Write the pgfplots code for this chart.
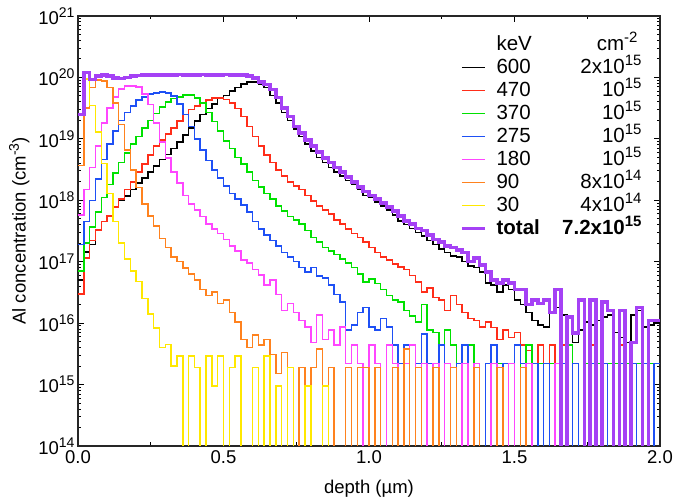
\documentclass[border=0pt]{standalone}
\usepackage{pgfplots}
\pgfplotsset{compat=1.18}
\usepackage{pgfplotstable}
\usepackage{fontspec}
\setmainfont{Liberation Sans}
\definecolor{cA}{RGB}{255,45,25}
\definecolor{cB}{RGB}{0,225,0}
\definecolor{cC}{RGB}{30,80,245}
\definecolor{cD}{RGB}{255,70,255}
\definecolor{cE}{RGB}{255,130,30}
\definecolor{cF}{RGB}{255,232,0}
\definecolor{cT}{RGB}{165,65,245}
\pgfplotstableread{
x k600 k470 k370 k275 k180 k90 k30 total
0.00 5e16 3e16 7e16 1.9e17 5.8e17 3.7e18 2.5e19 2.5e19
0.02 1.45e17 1.15e17 2e17 4.5e17 1.5e18 3.2e19 9.5e19 1.2e20
0.04 1.9e17 2.2e17 3.7e17 1e18 3.4e18 6.9e19 3.5e19 9.2e19
0.06 3.2e17 3.3e17 6.5e17 2.2e18 7.6e18 9e19 1.3e19 1.05e20
0.08 4.5e17 4.5e17 1.1e18 4.6e18 1.8e19 8.8e19 4e18 1.1e20
0.10 5.5e17 5.5e17 1.8e18 8.3e18 3.2e19 6.8e19 1.3e18 1.05e20
0.12 7.8e17 7.8e17 2.8e18 1.35e19 4.8e19 3.8e19 4.5e17 9.8e19
0.14 1e18 1.05e18 4.1e18 2e19 6.5e19 1.7e19 2e17 9.6e19
0.16 1.17e18 1.5e18 5.9e18 2.7e19 7.2e19 6.6e18 1.1e17 1e20
0.18 1.5e18 2e18 8.3e18 3.4e19 7.2e19 3.1e18 7e16 1.05e20
0.20 1.9e18 2.9e18 1.1e19 4.3e19 7e19 1.6e18 4.8e16 1.08e20
0.22 2.3e18 3.9e18 1.5e19 4.8e19 5.4e19 8.7e17 2.5e16 1.1e20
0.24 2.9e18 5.5e18 2e19 5.4e19 3.6e19 5.5e17 1.4e16 1.1e20
0.26 3.6e18 7.6e18 2.6e19 5.6e19 1.8e19 3.8e17 8.3e15 1.09e20
0.28 4.6e18 9.5e18 3.3e19 5.8e19 8.9e18 2.4e17 4e15 1.1e20
0.30 5.6e18 1.2e19 4e19 5.6e19 4.9e18 1.7e17 4.5e15 1.1e20
0.32 7e18 1.5e19 4.5e19 5e19 2.9e18 1.2e17 2e15 1.1e20
0.34 8.9e18 1.95e19 4.8e19 3.7e19 1.9e18 1e17 2.9e15 1.11e20
0.36 1.15e19 2.5e19 5.2e19 2.5e19 1.2e18 7.9e16 1e10 1.1e20
0.38 1.5e19 3e19 5.2e19 1.6e19 8.7e17 6.3e16 2.9e15 1.1e20
0.40 1.95e19 3.4e19 4.6e19 1e19 6.9e17 5e16 1.9e15 1.1e20
0.42 2.5e19 3.8e19 3.8e19 6.6e18 5.4e17 3.5e16 1e10 1.11e20
0.44 3.1e19 4.3e19 2.7e19 4.4e18 4.1e17 2.8e16 2.9e15 1.1e20
0.46 3.7e19 4.6e19 1.9e19 3.1e18 3.4e17 3.2e16 9.5e14 1.1e20
0.48 4.5e19 4.6e19 1.35e19 2.3e18 2.9e17 2.1e16 2.9e15 1.1e20
0.50 5.1e19 4.4e19 9.2e18 1.7e18 2.3e17 2.4e16 1e10 1.11e20
0.52 6e19 3.8e19 7e18 1.3e18 1.8e17 1.5e16 1.9e15 1.1e20
0.54 6.8e19 3.1e19 5e18 1.05e18 1.5e17 1.05e16 2.9e15 1.1e20
0.56 7.8e19 2.3e19 3.9e18 8.3e17 1.07e17 5.4e15 1e10 1.09e20
0.58 8.5e19 1.6e19 2.9e18 6.5e17 9.6e16 4e15 1e10 1.05e20
0.60 8.5e19 1.1e19 2.1e18 4.5e17 7.4e16 6.4e15 1.9e15 9.8e19
0.62 7.8e19 7.6e18 1.65e18 3.4e17 6.1e16 4.4e15 1e10 8.5e19
0.64 6.8e19 5.5e18 1.3e18 2.7e17 4.2e16 5.4e15 2.9e15 7.6e19
0.66 5.1e19 4.1e18 1.05e18 2.2e17 5e16 3.1e15 1e10 6.3e19
0.68 3.8e19 3.1e18 8.1e17 1.8e17 2.9e16 1.5e15 9.5e14 4.7e19
0.70 2.7e19 2.5e18 6.7e17 1.4e17 1.6e16 3.3e15 1e10 3.2e19
0.72 2e19 2e18 5.4e17 1.2e17 2.1e16 1.9e15 1.9e15 2.3e19
0.74 1.45e19 1.7e18 4.8e17 1e17 1.5e16 1e10 1e10 1.6e19
0.76 1.1e19 1.5e18 4.1e17 8e16 1.1e16 1.9e15 1e10 1.25e19
0.78 8.3e18 1.2e18 3.2e17 6.8e16 8.7e15 1e10 9.5e14 9.6e18
0.80 6.3e18 9.8e17 2.5e17 8e16 4.8e15 1.9e15 1e10 7.6e18
0.82 5e18 8.1e17 2.1e17 5.9e16 1.35e16 3.8e15 1e10 6.1e18
0.84 4.1e18 6.9e17 1.7e17 5.4e16 5.4e15 1e10 9.5e14 4.9e18
0.86 3.4e18 6e17 1.5e17 4.2e16 7.8e15 1.9e15 1e10 4.1e18
0.88 2.9e18 4.8e17 1.3e17 2.9e16 4.4e15 1e10 1e10 3.4e18
0.90 2.5e18 4.1e17 1.1e17 2.2e16 8.7e15 1e10 1e10 2.9e18
0.92 2.1e18 3.4e17 9.5e16 7.8e15 2.2e15 1.9e15 1e10 2.4e18
0.94 1.8e18 2.9e17 8e16 9.3e15 4.4e15 1e10 1e10 2e18
0.96 1.5e18 2.5e17 6.3e16 1.5e16 2.2e15 1.9e15 1e10 1.65e18
0.98 1.2e18 2.1e17 4.7e16 1.8e16 1e10 1.9e15 1e10 1.4e18
1.00 1.1e18 1.7e17 5.2e16 8.7e15 4.4e15 1e10 1e10 1.2e18
1.02 9.4e17 1.4e17 4.4e16 7.8e15 2.2e15 1.9e15 1e10 1.05e18
1.04 8.1e17 1.2e17 3.5e16 1.2e16 1e10 1e10 1e10 9.1e17
1.06 6.9e17 1.07e17 2.8e16 8.7e15 4.4e15 1e10 1e10 7.8e17
1.08 5.8e17 9.2e16 2.4e16 4.4e15 2.2e15 1.9e15 1e10 6.7e17
1.10 4.6e17 8.2e16 2.2e16 2.2e15 1e10 1e10 1e10 5.5e17
1.12 4e17 7.4e16 1.6e16 4.4e15 2.2e15 3.8e15 1e10 4.6e17
1.14 3.5e17 6e16 1.3e16 1e10 4.4e15 1e10 1e10 4.1e17
1.16 3e17 4.7e16 1.05e16 2.2e15 1e10 1.9e15 1e10 3.5e17
1.18 2.6e17 3.2e16 2e16 6.6e15 2.2e15 1e10 1e10 3.2e17
1.20 2.2e17 3.7e16 7.8e15 2.2e15 1e10 1e10 1e10 2.7e17
1.22 1.9e17 2.6e16 7e15 1e10 2.2e15 1.9e15 1e10 2.3e17
1.24 1.6e17 2.4e16 4.4e15 4.4e15 1e10 1e10 1e10 2.1e17
1.26 1.4e17 1.6e16 7.8e15 2.2e15 2.2e15 1e10 1e10 1.8e17
1.28 1.24e17 2.8e16 4.4e15 1e10 1e10 1.9e15 1e10 1.7e17
1.30 1.2e17 2e16 2.2e15 2.2e15 1e10 1e10 1e10 1.55e17
1.32 1e17 1.5e16 1e10 4.4e15 2.2e15 1e10 1e10 1.4e17
1.34 8.5e16 1.2e16 4.4e15 1e10 1e10 1e10 1e10 1e17
1.36 8e16 1.1e16 2.2e15 2.2e15 2.2e15 1.9e15 1e10 1.15e17
1.38 6.8e16 8.7e15 1e10 1e10 1e10 1e10 1e10 8.9e16
1.40 4.5e16 1.05e16 2.2e15 2.2e15 1e10 1e10 1e10 6.8e16
1.42 4.2e16 8.5e15 4.4e15 4.4e15 2.2e15 1e10 1e10 5e16
1.44 3.2e16 5.4e15 2.2e15 1e10 1e10 1.9e15 1e10 4.5e16
1.46 4.2e16 7.8e15 1e10 2.2e15 1e10 1e10 1e10 5e16
1.48 3.5e16 5.8e15 2.2e15 1e10 2.2e15 1e10 1e10 4.5e16
1.50 2.4e16 7e15 1e10 4.4e15 1e10 1e10 1e10 3.5e16
1.52 2e16 4.4e15 2.2e15 2.2e15 1e10 1.9e15 1e10 3.5e16
1.54 1.5e16 3.6e15 4.4e15 1e10 2.2e15 1e10 1e10 2e16
1.56 1.1e16 2.2e15 1e10 2.2e15 1e10 1e10 1e10 2.4e16
1.58 9.3e15 4.4e15 2.2e15 1e10 1e10 1e10 1e10 2.1e16
1.60 8.7e15 1e10 1e10 2.2e15 1e10 1e10 1e10 2.4e16
1.62 1.5e16 4.4e15 2.2e15 1e10 1e10 1e10 1e10 1.5e16
1.64 1.8e16 2.2e15 2.2e15 1e10 2.2e15 1e10 1e10 3.5e16
1.66 1.35e16 4.4e15 1e10 2.2e15 1e10 1e10 1e10 1e10
1.68 1.2e16 1e10 4.4e15 1e10 1e10 1e10 1e10 1.25e16
1.70 4.8e15 2.2e15 2.2e15 2.2e15 1e10 1e10 1e10 6.9e15
1.72 7.8e15 1e10 1e10 1e10 1e10 1e10 1e10 2.4e16
1.74 1.05e16 2.2e15 2.2e15 1e10 1e10 1e10 1e10 1e10
1.76 9.3e15 4.4e15 1e10 2.2e15 1e10 1e10 1e10 2.4e16
1.78 1.1e16 1e10 2.2e15 1e10 1e10 1e10 1e10 1e10
1.80 1.25e16 2.2e15 1e10 2.2e15 1e10 1e10 1e10 2.2e16
1.82 1.35e16 1e10 2.2e15 1e10 1e10 1e10 1e10 1.6e16
1.84 7e15 2.2e15 2.2e15 1e10 1e10 1e10 1e10 1e10
1.86 5.8e15 4.4e15 1e10 2.2e15 1e10 1e10 1e10 1.6e16
1.88 4.8e15 1e10 2.2e15 1e10 1e10 1e10 1e10 1e10
1.90 1.35e16 2.2e15 1e10 2.2e15 1e10 1e10 1e10 4.8e15
1.92 1.6e16 1e10 2.2e15 1e10 1e10 1e10 1e10 1.8e16
1.94 8.7e15 2.2e15 1e10 2.2e15 1e10 1e10 1e10 1e10
1.96 9.3e15 1e10 2.2e15 1e10 1e10 1e10 1e10 1.1e16
1.98 1e16 2.2e15 2.2e15 2.2e15 1e10 1e10 1e10 1.1e16
2.00 1e16 2.2e15 2.2e15 2.2e15 1e10 1e10 1e10 1.1e16
}\data
\newcommand{\sups}[1]{\raisebox{6.8bp}{\fontsize{14bp}{14bp}\selectfont #1}}
\newcommand{\lsups}[1]{\raisebox{7.5bp}{\fontsize{15bp}{15bp}\selectfont #1}}
\newcommand{\legrow}[2]{\kern9bp\hbox to 38bp{#1\hfil}\hbox to 107bp{\hfil #2}}
\begin{document}
\begin{tikzpicture}[font=\fontsize{18.5bp}{22bp}\selectfont]
\begin{axis}[
  scale only axis, width=582bp, height=430bp,
  ymode=log, xmin=0, xmax=2, ymin=1e14, ymax=1e21,
  xtick={0,0.5,1,1.5,2}, minor x tick num=1,
  xticklabel style={/pgf/number format/fixed, /pgf/number format/fixed zerofill, /pgf/number format/precision=1, yshift=-1bp},
  /pgf/number format/assume math mode=true,
  ytick={1e14,1e15,1e16,1e17,1e18,1e19,1e20,1e21},
  yticklabels={10\sups{14},10\sups{15},10\sups{16},10\sups{17},10\sups{18},10\sups{19},10\sups{20},10\sups{21}},
  minor ytick={2e14,3e14,4e14,5e14,6e14,7e14,8e14,9e14,
    2e15,3e15,4e15,5e15,6e15,7e15,8e15,9e15,
    2e16,3e16,4e16,5e16,6e16,7e16,8e16,9e16,
    2e17,3e17,4e17,5e17,6e17,7e17,8e17,9e17,
    2e18,3e18,4e18,5e18,6e18,7e18,8e18,9e18,
    2e19,3e19,4e19,5e19,6e19,7e19,8e19,9e19,
    2e20,3e20,4e20,5e20,6e20,7e20,8e20,9e20},
  tick align=inside,
  major tick length=6bp, minor tick length=3.5bp,
  axis line style={line width=1.3bp, black!85},
  every tick/.style={black, line width=1bp},
  xlabel={depth (µm)},
  xlabel style={yshift=-10bp},
  ylabel={Al concentration (cm\sups{-3})},
  ylabel style={yshift=2bp},
  every axis plot/.append style={const plot, line join=miter},
  legend image code/.code={\draw[#1] (0bp,0bp) -- (23bp,0bp);},
  legend style={draw=none, fill=none, at={(rel axis cs:0.651,0.962)}, anchor=north west,
    font=\fontsize{20.5bp}{24bp}\selectfont,
    row sep=3bp, nodes={inner sep=1bp, text height=14.5bp, text depth=3.5bp}},
]
\addlegendimage{empty legend}
\addlegendentry{\legrow{keV}{cm\lsups{-2}\kern4bp}\rule[-15bp]{0pt}{1bp}}
\addplot[black, line width=1.5bp] table[x=x, y=k600] {\data};
\addlegendentry{\legrow{600}{2x10\lsups{15}}}
\addplot[cA, line width=1.5bp] table[x=x, y=k470] {\data};
\addlegendentry{\legrow{470}{10\lsups{15}}}
\addplot[cB, line width=1.5bp] table[x=x, y=k370] {\data};
\addlegendentry{\legrow{370}{10\lsups{15}}}
\addplot[cC, line width=1.5bp] table[x=x, y=k275] {\data};
\addlegendentry{\legrow{275}{10\lsups{15}}}
\addplot[cD, line width=1.5bp] table[x=x, y=k180] {\data};
\addlegendentry{\legrow{180}{10\lsups{15}}}
\addplot[cE, line width=1.5bp] table[x=x, y=k90] {\data};
\addlegendentry{\legrow{90}{8x10\lsups{14}}}
\addplot[cF, line width=1.5bp] table[x=x, y=k30] {\data};
\addlegendentry{\legrow{30}{4x10\lsups{14}}}
\addplot[cT, line width=3.5bp] table[x=x, y=total] {\data};
\addlegendentry{\legrow{\textbf{total}}{\textbf{7.2x10\lsups{15}}}}
\end{axis}
\pgfresetboundingbox
\path (current axis.south west) ++(-78bp,-58bp) rectangle ++(679bp,504bp);
\end{tikzpicture}
\end{document}
